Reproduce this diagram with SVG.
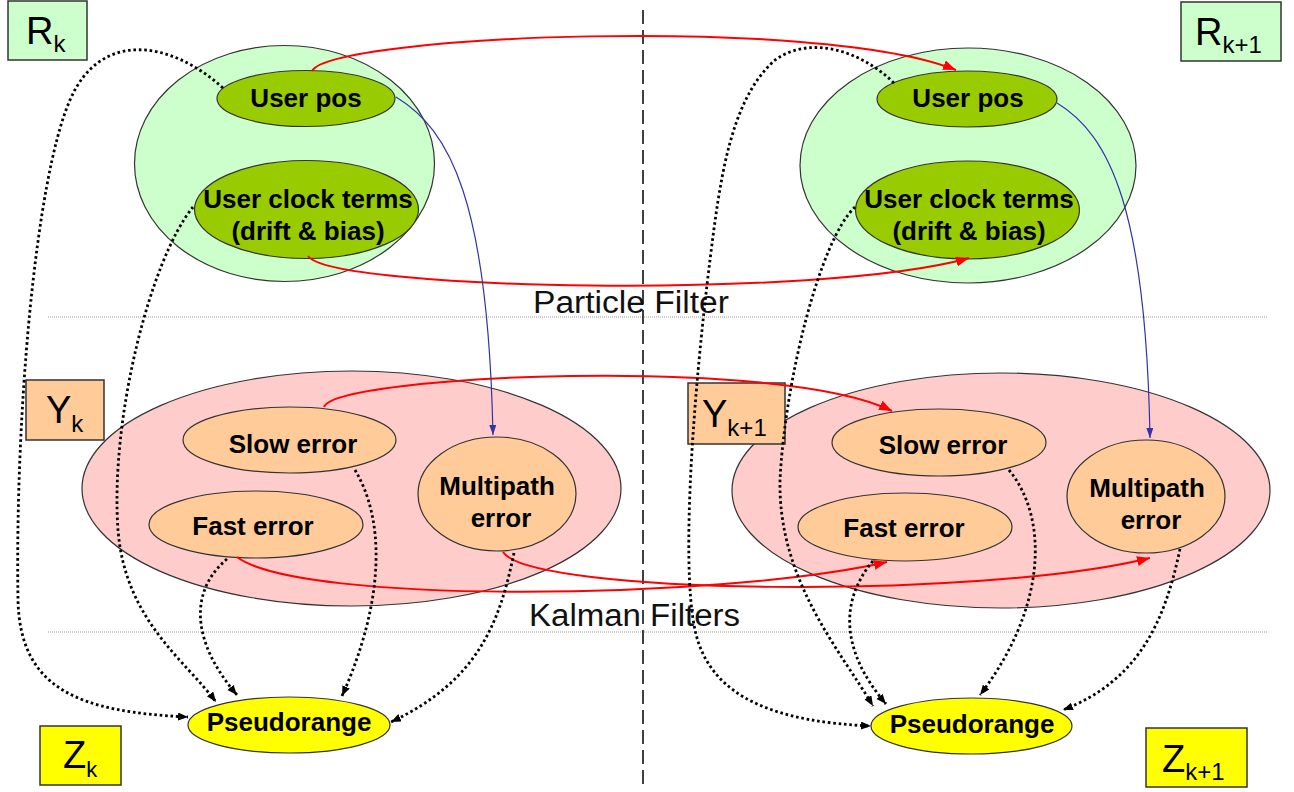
<svg xmlns="http://www.w3.org/2000/svg" width="1294" height="792" viewBox="0 0 1294 792">
  <defs>
    <style>
      .outer-green { fill: #ccffcc; stroke: #333; stroke-width: 1.2; }
      .state { fill: #99cc00; stroke: #333; stroke-width: 1.2; }
      .outer-pink { fill: #ffcccc; stroke: #333; stroke-width: 1.2; }
      .err { fill: #ffcc99; stroke: #333; stroke-width: 1.2; }
      .meas { fill: #ffff00; stroke: #333; stroke-width: 1.2; }
      .box-r { fill: #ccffcc; stroke: #333; stroke-width: 1.5; }
      .box-y { fill: #ffcc99; stroke: #333; stroke-width: 1.5; }
      .box-z { fill: #ffff00; stroke: #333; stroke-width: 1.5; }
      .lbl { font-family: "Liberation Sans", Arial, sans-serif; font-weight: bold; font-size: 26px; text-anchor: middle; fill: #000; }
      .var { font-family: "Liberation Sans", Arial, sans-serif; font-size: 38px; fill: #000; }
      .sec { font-family: "Liberation Sans", Arial, sans-serif; font-size: 31px; fill: #111; }
      .sep { stroke: #999; stroke-width: 1; stroke-dasharray: 1 1; fill: none; }
      .split { stroke: #111; stroke-width: 1.6; stroke-dasharray: 14 6; fill: none; }
      .red { stroke: #ff0000; stroke-width: 2; fill: none; marker-end: url(#ahRed); }
      .blue { stroke: #3333aa; stroke-width: 1.2; fill: none; marker-end: url(#ahBlue); }
      .dot { stroke: #000; stroke-width: 2.8; stroke-dasharray: 2.6 2.8; fill: none; marker-end: url(#ahBlack); }
    </style>
    <marker id="ahRed" markerUnits="userSpaceOnUse" markerWidth="14" markerHeight="10" refX="13" refY="5" orient="auto">
      <path d="M0,0 L13,5 L0,10 z" fill="#ff0000"/>
    </marker>
    <marker id="ahBlue" markerUnits="userSpaceOnUse" markerWidth="11" markerHeight="8" refX="10" refY="3.5" orient="auto">
      <path d="M0,0 L10,3.5 L0,7 z" fill="#3333aa"/>
    </marker>
    <marker id="ahBlack" markerUnits="userSpaceOnUse" markerWidth="11" markerHeight="9" refX="10" refY="4" orient="auto">
      <path d="M0,0 L10,4 L0,8 z" fill="#000"/>
    </marker>
  </defs>

  <rect width="1294" height="792" fill="#ffffff"/>

  <!-- section separators -->
  <g id="sections">
    <line class="sep" x1="48" y1="317" x2="1268" y2="317"/>
    <line class="sep" x1="48" y1="632" x2="1268" y2="632"/>
    <text class="sec" x="533" y="313" textLength="196" lengthAdjust="spacingAndGlyphs">Particle Filter</text>
    <text class="sec" x="529" y="626" textLength="211" lengthAdjust="spacingAndGlyphs">Kalman Filters</text>
    <line class="split" x1="643" y1="10" x2="643" y2="786"/>
  </g>

  <!-- time step k -->
  <g id="pf-k">
    <ellipse class="outer-green" cx="284.5" cy="163.5" rx="150" ry="118"/>
  </g>
  <g id="userpos-k">
    <ellipse class="state" cx="306" cy="98.5" rx="89" ry="28"/>
    <text class="lbl" x="306" y="107">User pos</text>
  </g>
  <g id="clock-k">
    <ellipse class="state" cx="306.5" cy="209.5" rx="112" ry="49"/>
    <text class="lbl" x="308" y="208">User clock terms</text>
    <text class="lbl" x="308" y="240">(drift &amp; bias)</text>
  </g>
  <g id="kf-k">
    <ellipse class="outer-pink" cx="351.5" cy="488.5" rx="269.5" ry="117.5"/>
  </g>
  <g id="slow-k">
    <ellipse class="err" cx="289.5" cy="440" rx="106.5" ry="33"/>
    <text class="lbl" x="293" y="453">Slow error</text>
  </g>
  <g id="fast-k">
    <ellipse class="err" cx="256" cy="524.5" rx="107" ry="33.5"/>
    <text class="lbl" x="253" y="535">Fast error</text>
  </g>
  <g id="multipath-k">
    <ellipse class="err" cx="497" cy="494" rx="79" ry="57"/>
    <text class="lbl" x="497" y="495">Multipath</text>
    <text class="lbl" x="501" y="527">error</text>
  </g>
  <g id="pseudorange-k">
    <ellipse class="meas" cx="289" cy="725" rx="101" ry="28"/>
    <text class="lbl" x="289" y="731">Pseudorange</text>
  </g>

  <!-- time step k+1 -->
  <g id="pf-k1">
    <ellipse class="outer-green" cx="968" cy="165.5" rx="168" ry="117.5"/>
  </g>
  <g id="userpos-k1">
    <ellipse class="state" cx="967" cy="99" rx="90" ry="28"/>
    <text class="lbl" x="968" y="107">User pos</text>
  </g>
  <g id="clock-k1">
    <ellipse class="state" cx="967.5" cy="210" rx="112" ry="49"/>
    <text class="lbl" x="969" y="208">User clock terms</text>
    <text class="lbl" x="969" y="240">(drift &amp; bias)</text>
  </g>
  <g id="kf-k1">
    <ellipse class="outer-pink" cx="1001" cy="490.5" rx="269" ry="117.5"/>
  </g>
  <g id="slow-k1">
    <ellipse class="err" cx="939" cy="442.5" rx="107" ry="33.5"/>
    <text class="lbl" x="943" y="454">Slow error</text>
  </g>
  <g id="fast-k1">
    <ellipse class="err" cx="905" cy="527" rx="107" ry="34"/>
    <text class="lbl" x="904" y="537">Fast error</text>
  </g>
  <g id="multipath-k1">
    <ellipse class="err" cx="1146" cy="496.5" rx="79" ry="56.5"/>
    <text class="lbl" x="1147" y="497">Multipath</text>
    <text class="lbl" x="1151" y="529">error</text>
  </g>
  <g id="pseudorange-k1">
    <ellipse class="meas" cx="971.5" cy="726" rx="100.5" ry="28"/>
    <text class="lbl" x="972" y="733">Pseudorange</text>
  </g>

  <!-- variable labels -->
  <g id="label-rk">
    <rect class="box-r" x="8" y="1" width="79" height="59"/>
    <text class="var" x="26" y="44">R<tspan font-size="24" dy="8">k</tspan></text>
  </g>
  <g id="label-rk1">
    <rect class="box-r" x="1181" y="2" width="100" height="59"/>
    <text class="var" x="1195" y="45">R<tspan font-size="24" dy="8">k+1</tspan></text>
  </g>
  <g id="label-yk">
    <rect class="box-y" x="26" y="380" width="78" height="60"/>
    <text class="var" x="46" y="423">Y<tspan font-size="24" dy="9">k</tspan></text>
  </g>
  <g id="label-yk1">
    <rect class="box-y" x="688" y="383" width="97" height="61"/>
    <text class="var" x="702" y="427">Y<tspan font-size="24" dy="9">k+1</tspan></text>
  </g>
  <g id="label-zk">
    <rect class="box-z" x="40" y="726" width="81" height="59"/>
    <text class="var" x="63" y="768">Z<tspan font-size="22" dy="9">k</tspan></text>
  </g>
  <g id="label-zk1">
    <rect class="box-z" x="1146" y="728" width="101" height="59"/>
    <text class="var" x="1162" y="772">Z<tspan font-size="24" dy="8">k+1</tspan></text>
  </g>

  <g id="connectors">
    <!-- temporal transitions k -> k+1 -->
    <path class="red" d="M312,71 C330,35 820,15 956,70"/>
    <path class="red" d="M308,256 C330,290 820,300 969,258"/>
    <path class="red" d="M324,407 C335,375 780,355 892,411"/>
    <path class="red" d="M237,557 C300,605 720,600 887,562"/>
    <path class="red" d="M503,552 C530,595 980,600 1150,558"/>

    <!-- position drives multipath -->
    <path class="blue" d="M396,97 C450,130 488,200 493,435"/>
    <path class="blue" d="M1057,103 C1110,135 1146,210 1150,438"/>

    <!-- measurement dependencies, step k -->
    <path class="dot" d="M223,88 C170,40 100,30 70,100 C35,180 15,420 18,600 C20,690 80,712 188,717"/>
    <path class="dot" d="M193,207 C150,260 110,420 118,530 C125,620 185,660 216,702"/>
    <path class="dot" d="M355,470 C385,520 385,600 342,696"/>
    <path class="dot" d="M227,559 C190,590 190,640 237,695"/>
    <path class="dot" d="M514,553 C500,620 480,680 391,722"/>

    <!-- measurement dependencies, step k+1 -->
    <path class="dot" d="M894,83 C860,50 810,35 775,60 C730,100 720,180 710,260 C695,380 680,560 695,630 C710,700 780,722 871,726"/>
    <path class="dot" d="M855,207 C820,240 785,380 780,480 C778,580 840,650 873,706"/>
    <path class="dot" d="M1009,470 C1050,520 1045,610 980,695"/>
    <path class="dot" d="M873,561 C840,600 840,650 886,704"/>
    <path class="dot" d="M1180,549 C1165,620 1140,680 1063,710"/>
  </g>
</svg>
